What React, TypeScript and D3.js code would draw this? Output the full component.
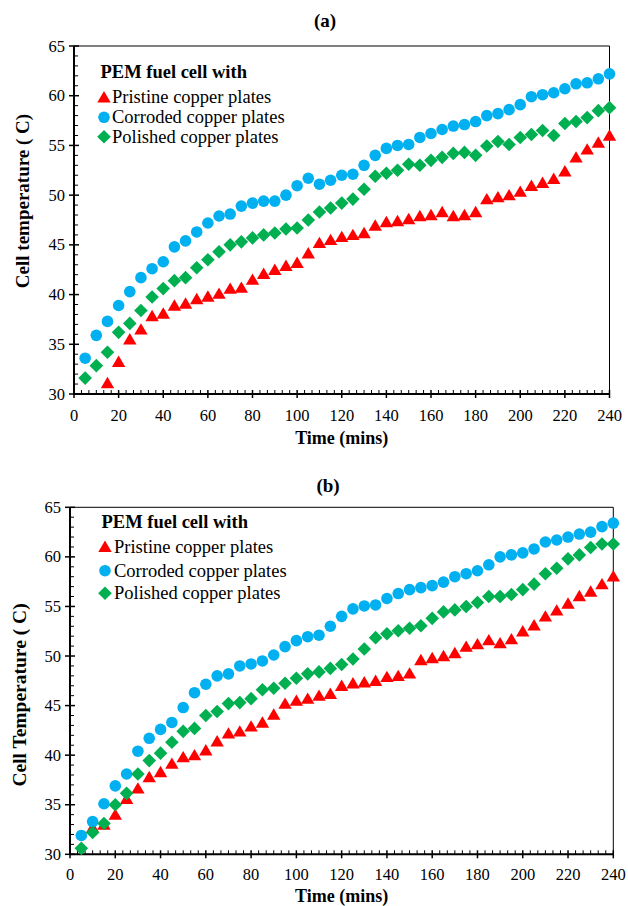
import React from 'react';
import * as d3 from 'd3';

const TIMES = [5, 10, 15, 20, 25, 30, 35, 40, 45, 50, 55, 60, 65, 70, 75, 80, 85, 90, 95, 100, 105, 110, 115, 120, 125, 130, 135, 140, 145, 150, 155, 160, 165, 170, 175, 180, 185, 190, 195, 200, 205, 210, 215, 220, 225, 230, 235, 240];
const X_TICKS = [0, 20, 40, 60, 80, 100, 120, 140, 160, 180, 200, 220, 240];
const Y_TICKS = [30, 35, 40, 45, 50, 55, 60, 65];

const PRISTINE_A = [null, null, 31.1, 33.25, 35.5, 36.5, 37.85, 38.1, 38.9, 39.1, 39.55, 39.8, 40.1, 40.6, 40.7, 41.5,
  42.1, 42.5, 42.9, 43.2, 44.15, 45.2, 45.5, 45.8, 46.0, 46.2, 46.95, 47.3, 47.4, 47.6, 47.9, 48.0, 48.3,
  47.9, 48.0, 48.3, 49.6, 49.8, 50.0, 50.35, 50.95, 51.25, 51.65, 52.4, 53.8, 54.6, 55.3, 56.0];
const CORRODED_A = [33.6, 35.9, 37.3, 38.9, 40.3, 41.7, 42.6, 43.3, 44.8, 45.4, 46.3, 47.2, 47.9, 48.1, 48.9, 49.2,
  49.4, 49.4, 50.0, 50.95, 51.7, 51.1, 51.5, 52.0, 52.1, 53.0, 54.0, 54.7, 55.0, 55.1, 55.8, 56.2, 56.6,
  56.95, 57.1, 57.4, 58.0, 58.2, 58.6, 59.1, 59.9, 60.1, 60.3, 60.7, 61.2, 61.3, 61.7, 62.2];
const POLISHED_A = [31.6, 32.85, 34.2, 36.2, 37.1, 38.4, 39.75, 40.6, 41.4, 41.7, 42.7, 43.5, 44.3, 45.0, 45.3, 45.7,
  46.0, 46.2, 46.6, 46.7, 47.5, 48.3, 48.7, 49.2, 49.6, 50.6, 51.9, 52.2, 52.5, 53.1, 53.0, 53.5, 53.8,
  54.2, 54.3, 54.0, 54.95, 55.4, 55.1, 55.8, 56.1, 56.5, 56.0, 57.2, 57.4, 57.8, 58.5, 58.8];

const PRISTINE_B = [null, 32.7, 33.0, 34.0, 35.6, 36.65, 37.8, 38.3, 39.15, 39.8, 40.0, 40.5, 41.4, 42.2, 42.4, 42.9,
  43.3, 44.1, 45.2, 45.5, 45.7, 46.0, 46.2, 47.0, 47.25, 47.35, 47.5, 47.9, 48.0, 48.25, 49.6, 49.8, 50.0,
  50.3, 50.95, 51.2, 51.6, 51.3, 51.7, 52.5, 53.1, 54.0, 54.6, 55.3, 56.05, 56.5, 57.25, 58.05];
const CORRODED_B = [31.9, 33.3, 35.1, 36.9, 38.1, 40.4, 41.7, 42.6, 43.3, 44.8, 46.3, 47.15, 48.0, 48.2, 49.0, 49.2,
  49.5, 50.1, 50.95, 51.55, 51.95, 52.1, 53.0, 54.0, 54.75, 55.05, 55.15, 55.8, 56.3, 56.7, 56.9, 57.1, 57.45,
  58.0, 58.3, 58.6, 59.2, 60.0, 60.2, 60.4, 60.8, 61.5, 61.7, 62.0, 62.3, 62.5, 63.05, 63.4];
const POLISHED_B = [30.6, 32.2, 33.1, 35.0, 36.15, 38.1, 39.45, 40.2, 41.3, 42.4, 42.7, 44.0, 44.4, 45.2, 45.3, 45.7,
  46.6, 46.75, 47.25, 47.75, 48.2, 48.4, 48.75, 49.15, 49.7, 50.7, 51.85, 52.25, 52.55, 52.8, 53.05, 53.8, 54.45,
  54.65, 55.0, 55.4, 56.0, 56.0, 56.2, 56.7, 57.25, 58.3, 58.85, 59.8, 60.2, 60.95, 61.3, 61.3];

const LEGEND_TITLE = 'PEM fuel cell with';
const SERIES_NAMES = ['Pristine copper plates', 'Corroded copper plates', 'Polished copper plates'];
const COLORS = { pristine: '#FF0000', corroded: '#00B0F0', polished: '#00B050' };

const FONT = '"Liberation Serif", "Times New Roman", serif';

const tri = (cx: number, cy: number) => `M${cx},${cy - 6.2}L${cx + 6.7},${cy + 5.2}L${cx - 6.7},${cy + 5.2}Z`;
const dia = (cx: number, cy: number) => `M${cx},${cy - 6.8}L${cx + 6.8},${cy}L${cx},${cy + 6.8}L${cx - 6.8},${cy}Z`;

type Cfg = {
  left: number; right: number; top: number; bottom: number;
  title: string; titleX: number; titleY: number;
  yTitle: string; yTitleX: number; yTitleY: number; yTitleSize: number;
  xLabelDy: number; xTitleY: number;
  legX: number; legTitleY: number; legY: number[]; legTextX: number;
  pristine: (number | null)[]; corroded: number[]; polished: number[];
};

function Panel({ c }: { c: Cfg }) {
  const x = d3.scaleLinear().domain([0, 240]).range([c.left, c.right]);
  const y = d3.scaleLinear().domain([30, 65]).range([c.bottom, c.top]);
  const minorX = d3.range(0, 240.001, 20 / 6).filter((v) => Math.abs(v / 20 - Math.round(v / 20)) > 1e-6);
  const minorY = d3.range(30, 65.001, 1).filter((v) => v % 5 !== 0);
  return (
    <g fontFamily={FONT}>
      <text x={c.titleX} y={c.titleY} textAnchor="middle" fontWeight="bold" fontSize={19}>{c.title}</text>
      <line x1={c.left} x2={c.right} y1={c.top} y2={c.top} stroke="#000" strokeWidth={1} />
      <line x1={c.right} x2={c.right} y1={c.top} y2={c.bottom} stroke="#000" strokeWidth={1} />
      {minorY.map((v) => (
        <line key={'my' + v} x1={c.left} x2={c.left + 4} y1={y(v)} y2={y(v)} stroke="#000" strokeWidth={1} />
      ))}
      {minorX.map((v, i) => (
        <line key={'mx' + i} x1={x(v)} x2={x(v)} y1={c.bottom} y2={c.bottom - 4} stroke="#000" strokeWidth={1} />
      ))}
      {Y_TICKS.map((v) => (
        <g key={'y' + v}>
          <line x1={c.left - 5} x2={c.left + 5} y1={y(v)} y2={y(v)} stroke="#000" strokeWidth={1.5} />
          <text x={c.left - 9} y={y(v) + 5.5} textAnchor="end" fontSize={16.5}>{v}</text>
        </g>
      ))}
      {X_TICKS.map((v) => (
        <g key={'x' + v}>
          <line x1={x(v)} x2={x(v)} y1={c.bottom - 4} y2={c.bottom + 4} stroke="#000" strokeWidth={1.5} />
          <text x={x(v)} y={c.bottom + c.xLabelDy} textAnchor="middle" fontSize={16.5}>{v}</text>
        </g>
      ))}
      <line x1={c.left} x2={c.left} y1={c.top} y2={c.bottom} stroke="#000" strokeWidth={2} />
      <line x1={c.left - 1} x2={c.right} y1={c.bottom} y2={c.bottom} stroke="#000" strokeWidth={2} />
      <text x={(c.left + c.right) / 2} y={c.xTitleY} textAnchor="middle" fontWeight="bold" fontSize={18}>Time (mins)</text>
      <text transform={`translate(${c.yTitleX},${c.yTitleY}) rotate(-90)`} textAnchor="middle" fontWeight="bold" fontSize={c.yTitleSize}>{c.yTitle}</text>
      <g>
        {TIMES.map((t, i) => c.pristine[i] == null ? null : (
          <path key={'p' + t} d={tri(x(t), y(c.pristine[i] as number))} fill={COLORS.pristine} />
        ))}
      </g>
      <g>
        {TIMES.map((t, i) => (
          <circle key={'c' + t} cx={x(t)} cy={y(c.corroded[i])} r={5.8} fill={COLORS.corroded} />
        ))}
      </g>
      <g>
        {TIMES.map((t, i) => (
          <path key={'d' + t} d={dia(x(t), y(c.polished[i]))} fill={COLORS.polished} />
        ))}
      </g>
      <text x={c.legX} y={c.legTitleY} fontWeight="bold" fontSize={18.5}>{LEGEND_TITLE}</text>
      <path d={tri(c.legX + 3.5, c.legY[0])} fill={COLORS.pristine} />
      <circle cx={c.legX + 3.5} cy={c.legY[1]} r={5.8} fill={COLORS.corroded} />
      <path d={dia(c.legX + 3.5, c.legY[2])} fill={COLORS.polished} />
      {SERIES_NAMES.map((n, i) => (
        <text key={n} x={c.legTextX} y={c.legY[i] + 6} fontSize={18.5}>{n}</text>
      ))}
    </g>
  );
}

const CFG_A: Cfg = {
  left: 74, right: 609.5, top: 46, bottom: 394,
  title: '(a)', titleX: 325, titleY: 27,
  yTitle: 'Cell temperature ( C)', yTitleX: 29, yTitleY: 201, yTitleSize: 19,
  xLabelDy: 27, xTitleY: 444,
  legX: 100.5, legTitleY: 78, legY: [97.3, 117.3, 136.7], legTextX: 112,
  pristine: PRISTINE_A, corroded: CORRODED_A, polished: POLISHED_A,
};

const CFG_B: Cfg = {
  left: 70, right: 613.3, top: 507.3, bottom: 854.3,
  title: '(b)', titleX: 328, titleY: 492,
  yTitle: 'Cell Temperature ( C)', yTitleX: 26, yTitleY: 695, yTitleSize: 19.5,
  xLabelDy: 26, xTitleY: 902,
  legX: 101.5, legTitleY: 528.3, legY: [546.7, 570.7, 593.3], legTextX: 114,
  pristine: PRISTINE_B, corroded: CORRODED_B, polished: POLISHED_B,
};

export default function App() {
  return (
    <svg width={628} height={906} style={{ position: 'absolute', left: 0, top: 0, background: '#fff' }}>
      <rect x={0} y={0} width={628} height={906} fill="#fff" />
      <Panel c={CFG_A} />
      <Panel c={CFG_B} />
    </svg>
  );
}
